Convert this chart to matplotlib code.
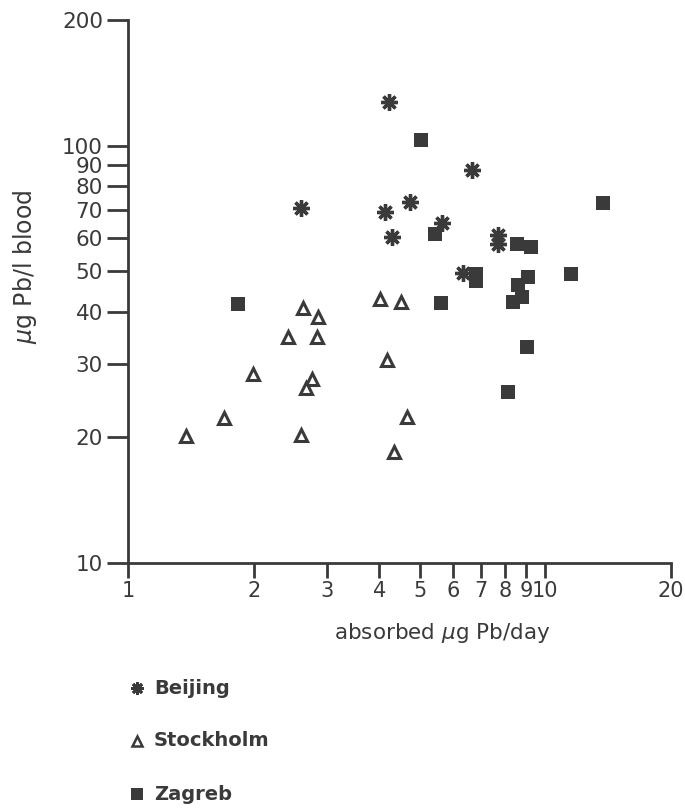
import matplotlib
matplotlib.use("Agg")
import matplotlib.pyplot as plt
from matplotlib.ticker import FixedLocator, FixedFormatter, NullLocator

# absorbed ug Pb/day (x) vs ug Pb/l blood (y)
beijing_x = [4.23, 6.68, 2.60, 4.13, 4.75, 4.30, 5.66, 7.71, 7.71, 6.36]
beijing_y = [127, 87.5, 71.0, 69.5, 73.4, 60.5, 65.3, 61.2, 58.0, 49.5]

stockholm_x = [2.63, 2.86, 2.42, 2.84, 4.02, 4.51, 4.18, 1.99, 2.76, 2.67,
               1.70, 1.38, 2.60, 4.67, 4.35]
stockholm_y = [40.8, 38.9, 34.7, 34.7, 43.0, 42.1, 30.7, 28.4, 27.6, 26.3,
               22.3, 20.2, 20.3, 22.4, 18.4]

zagreb_x = [5.04, 5.45, 8.57, 9.26, 13.77, 6.83, 6.83, 11.54, 9.10, 8.62,
            8.81, 8.38, 5.63, 9.05, 8.15, 1.83]
zagreb_y = [103, 61.5, 58.2, 57.3, 73.0, 49.3, 47.4, 49.3, 48.5, 46.4,
            43.5, 42.3, 42.0, 33.0, 25.7, 41.8]

x_ticks = [1, 2, 3, 4, 5, 6, 7, 8, 9, 10, 20]
y_ticks = [10, 20, 30, 40, 50, 60, 70, 80, 90, 100, 200]

ink = '#3a3a3a'
star = (8, 2, 0)   # 8-armed asterisk

fig = plt.figure(figsize=(6.85, 8.11), dpi=100)
ax = fig.add_axes([128/685, 1-563/811, (671-128)/685, (563-20)/811])

ax.set_xscale('log')
ax.set_yscale('log')
ax.set_xlim(1, 20)
ax.set_ylim(10, 200)

# data
ax.plot(beijing_x, beijing_y, ls='none', marker=star, ms=12, mew=2.4,
        color=ink, clip_on=False)
ax.plot(stockholm_x, stockholm_y, ls='none', marker='^', ms=9, mew=2.2,
        mfc='white', mec=ink, clip_on=False)
ax.plot(zagreb_x, zagreb_y, ls='none', marker='s', ms=9.5, mew=0,
        color=ink, clip_on=False)

# axes styling
for s in ['top', 'right']:
    ax.spines[s].set_visible(False)
for s in ['left', 'bottom']:
    ax.spines[s].set_color(ink)
    ax.spines[s].set_linewidth(2)

ax.xaxis.set_major_locator(FixedLocator(x_ticks))
ax.xaxis.set_major_formatter(FixedFormatter([str(t) for t in x_ticks]))
ax.xaxis.set_minor_locator(NullLocator())
ax.yaxis.set_major_locator(FixedLocator(y_ticks))
ax.yaxis.set_major_formatter(FixedFormatter([str(t) for t in y_ticks]))
ax.yaxis.set_minor_locator(NullLocator())

ax.tick_params(axis='x', direction='out', length=11, width=2, color=ink,
               labelsize=15, labelcolor=ink, pad=2)
ax.tick_params(axis='y', direction='out', length=15, width=2, color=ink,
               labelsize=15.5, labelcolor=ink, pad=3)

fig.text(442/685, 1-633/811, r'absorbed $\mu$g Pb/day', ha='center', va='center',
         fontsize=15.5, color=ink)
fig.text(25/685, 1-267/811, r'$\mu$g Pb/l blood', ha='center', va='center',
         rotation=90, fontsize=17, color=ink)

# legend drawn below the plot
leg = [('Beijing', dict(marker=star, ms=9, mew=2.0, color=ink), 688),
       ('Stockholm', dict(marker='^', ms=7, mew=1.8, mfc='white', mec=ink), 741),
       ('Zagreb', dict(marker='s', ms=8, mew=0, color=ink), 794)]
for name, style, ypix in leg:
    fig.lines.append(plt.Line2D([137/685], [1-ypix/811], transform=fig.transFigure,
                                ls='none', **style))
    fig.text(154/685, 1-ypix/811, name, ha='left', va='center',
             fontsize=14, fontweight='bold', color=ink)

fig.savefig('out.png', dpi=100, facecolor='white')
